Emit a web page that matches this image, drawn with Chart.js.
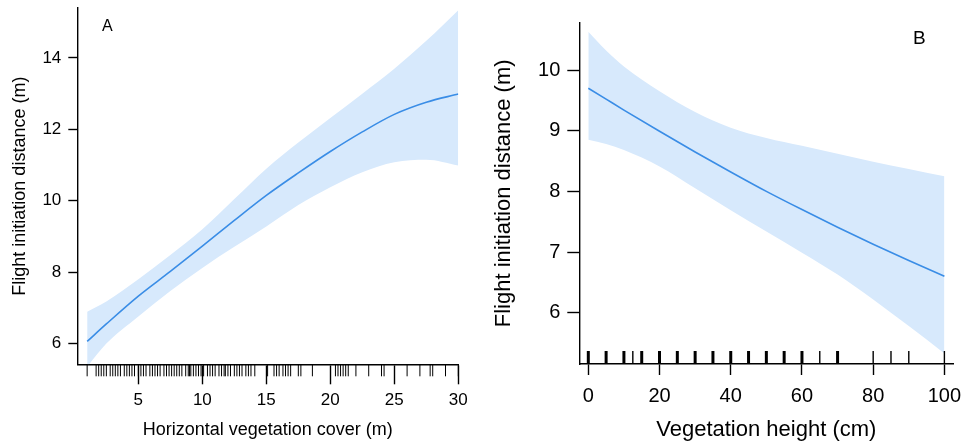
<!DOCTYPE html>
<html>
<head>
<meta charset="utf-8">
<script src="https://cdn.jsdelivr.net/npm/chart.js@4.4.0/dist/chart.umd.min.js"></script>
<style>
  body { margin: 0; background: #fff; }
  #wrap { position: relative; width: 967px; height: 447px; }
  canvas { position: absolute; top: 0; }
  #chartA { left: 0; }
  #chartB { left: 480px; }
  .tag { position: absolute; font-family: "Liberation Sans", Arial, sans-serif; color: #000; line-height: 1; }
</style>
</head>
<body>
<div id="wrap">
  <canvas id="chartA" width="480" height="447"></canvas>
  <canvas id="chartB" width="487" height="447"></canvas>
  <div class="tag" style="left:102px;top:18px;font-size:16px;">A</div>
  <div class="tag" style="left:913px;top:28px;font-size:19px;">B</div>
</div>
<script>
// Panel A: horizontal vegetation cover
const coverX     = [1, 2.5, 5, 7.5, 10, 12.5, 15, 17.5, 20, 22.5, 25, 27.5, 30];
const coverFit   = [6.06, 6.55, 7.33, 8.02, 8.73, 9.45, 10.15, 10.78, 11.38, 11.93, 12.42, 12.76, 12.99];
const coverUpper = [6.89, 7.18, 7.8, 8.48, 9.2, 10.05, 10.9, 11.63, 12.32, 13.0, 13.7, 14.48, 15.34];
const coverLower = [5.35, 6.0, 6.76, 7.47, 8.12, 8.71, 9.28, 9.88, 10.38, 10.8, 11.08, 11.15, 10.99];
const coverRug = [1.0, 1.7, 1.9, 2.1, 2.3, 2.5, 2.8, 3.0, 3.2, 3.4, 3.6, 3.9, 4.1, 4.3, 4.5, 4.7,
  5.0, 5.2, 5.4, 5.6, 5.9, 6.1, 6.3, 6.5, 6.7, 7.0, 7.2, 7.4, 7.6, 7.8, 8.0, 8.2, 8.4, 8.7,
  8.9, 9.0, 9.1, 9.3, 9.5, 9.7, 9.9, 10.1, 10.4, 10.6, 10.8, 11.0, 11.3, 11.5, 11.7, 11.8,
  12.0, 12.2, 12.5, 12.7, 12.9, 13.1, 13.4, 13.6, 13.8, 14.1,
  15.1, 15.6, 15.8, 16.0, 16.3, 16.5, 16.7, 16.9, 17.5, 17.7, 18.6, 20.4, 20.6, 20.8, 21.0,
  21.2, 21.4, 22.0, 23.0, 24.0, 24.2, 26.0, 27.0, 27.8, 28.0, 29.0, 30.0];
const coverTicksX = [5, 10, 15, 20, 25, 30];
const coverTicksY = [6, 8, 10, 12, 14];

// Panel B: vegetation height
const heightX     = [0, 5, 10, 20, 30, 40, 50, 60, 70, 80, 90, 100];
const heightFit   = [9.70, 9.52, 9.34, 8.99, 8.65, 8.32, 8.0, 7.70, 7.41, 7.13, 6.86, 6.60];
const heightUpper = [10.63, 10.32, 10.06, 9.65, 9.31, 9.05, 8.88, 8.75, 8.62, 8.49, 8.37, 8.25];
const heightLower = [8.85, 8.78, 8.68, 8.41, 8.05, 7.69, 7.34, 6.99, 6.63, 6.22, 5.78, 5.33];
const heightRug      = [0, 5, 10, 12.5, 15, 20, 25, 30, 35, 40, 45, 50, 55, 60, 65, 70, 80, 85, 90, 100];
const heightRugCount = [3, 3, 3, 1, 3, 3, 3, 3, 3, 3, 3, 3, 3, 3, 1, 2, 1, 1, 1, 1];
const heightTicksX = [0, 20, 40, 60, 80, 100];
const heightTicksY = [6, 7, 8, 9, 10];

const FONT = '"Liberation Sans", Arial, sans-serif';
const LINE = '#3a8de6';
const BAND = '#d7e9fc';

function pts(xs, ys) {
    return xs.map((x, i) => ({ x: x, y: ys[i] }));
}

const rugPlugin = {
    id: 'rug',
    afterDatasetsDraw(chart, args, opts) {
        const xs = chart.scales.x;
        const base = chart.chartArea.bottom;
        const ctx = chart.ctx;
        ctx.save();
        ctx.strokeStyle = '#000';
        opts.values.forEach((v, i) => {
            const px = xs.getPixelForValue(v);
            ctx.lineWidth = opts.counts ? (opts.counts[i] > 1 ? 3 : 1.4) : 1;
            ctx.beginPath();
            ctx.moveTo(px, base);
            ctx.lineTo(px, base + opts.dir * opts.length);
            ctx.stroke();
        });
        ctx.restore();
    }
};

function makeChart(id, cfg) {
    const fixAxis = (size) => (scale) => {
        if (scale.isHorizontal()) scale.height = size; else scale.width = size;
        scale.paddingLeft = 0; scale.paddingRight = 0;
        scale.paddingTop = 0; scale.paddingBottom = 0;
    };
    const setTicks = (list) => (scale) => {
        scale.ticks = list.map(v => ({ value: v }));
    };

    return new Chart(document.getElementById(id).getContext('2d'), {
        type: 'line',
        data: {
            datasets: [
                {
                    data: pts(cfg.x, cfg.lower),
                    order: 2,
                    borderWidth: 0,
                    pointRadius: 0,
                    fill: false,
                    cubicInterpolationMode: 'monotone'
                },
                {
                    data: pts(cfg.x, cfg.upper),
                    order: 1,
                    borderWidth: 0,
                    pointRadius: 0,
                    backgroundColor: BAND,
                    fill: '-1',
                    cubicInterpolationMode: 'monotone'
                },
                {
                    data: pts(cfg.x, cfg.fit),
                    order: 0,
                    borderColor: LINE,
                    borderWidth: 1.6,
                    pointRadius: 0,
                    fill: false,
                    cubicInterpolationMode: 'monotone'
                }
            ]
        },
        plugins: [rugPlugin],
        options: {
            responsive: false,
            animation: false,
            events: [],
            layout: { padding: cfg.padding },
            plugins: {
                legend: { display: false },
                tooltip: { enabled: false },
                rug: cfg.rug
            },
            scales: {
                x: {
                    type: 'linear',
                    min: cfg.xMin,
                    max: cfg.xMax,
                    afterBuildTicks: setTicks(cfg.ticksX),
                    afterFit: fixAxis(cfg.xHeight),
                    border: { display: true, color: '#000', width: 1.4 },
                    grid: { drawOnChartArea: false, drawTicks: true, tickLength: cfg.xTickLen, tickColor: '#000', tickWidth: 1.4 },
                    ticks: { color: '#000', padding: cfg.xTickPad, maxRotation: 0, autoSkip: false, font: { family: FONT, size: cfg.tickSize } },
                    title: { display: true, text: cfg.xTitle, color: '#000', padding: { top: 0, bottom: cfg.xTitlePad }, font: { family: FONT, size: cfg.titleSize } }
                },
                y: {
                    min: cfg.yMin,
                    max: cfg.yMax,
                    afterBuildTicks: setTicks(cfg.ticksY),
                    afterFit: fixAxis(cfg.yWidth),
                    border: { display: true, color: '#000', width: 1.4 },
                    grid: { drawOnChartArea: false, drawTicks: true, tickLength: cfg.yTickLen, tickColor: '#000', tickWidth: 1.4 },
                    ticks: { color: '#000', padding: 7, autoSkip: false, font: { family: FONT, size: cfg.tickSize } },
                    title: { display: true, text: 'Flight initiation distance (m)', color: '#000', padding: { top: cfg.yTitlePad, bottom: 0 }, font: { family: FONT, size: cfg.titleSize } }
                }
            }
        }
    });
}

makeChart('chartA', {
    x: coverX, fit: coverFit, upper: coverUpper, lower: coverLower,
    ticksX: coverTicksX, ticksY: coverTicksY,
    xMin: 0.23, xMax: 30, yMin: 5.42, yMax: 15.4,
    padding: { top: 8, right: 21.7, left: 0, bottom: 0 },
    xHeight: 82.7, yWidth: 77.3,
    xTickLen: 20, xTickPad: 6, yTickLen: 9,
    tickSize: 17, titleSize: 18, xTitlePad: 6, yTitlePad: 9,
    xTitle: 'Horizontal vegetation cover (m)',
    rug: { values: coverRug, dir: 1, length: 12 }
});

makeChart('chartB', {
    x: heightX, fit: heightFit, upper: heightUpper, lower: heightLower,
    ticksX: heightTicksX, ticksY: heightTicksY,
    xMin: -2.53, xMax: 102.5, yMin: 5.155, yMax: 10.78,
    padding: { top: 22.7, right: 13.7, left: 0, bottom: 0 },
    xHeight: 83, yWidth: 99.3,
    xTickLen: 11, xTickPad: 9, yTickLen: 12,
    tickSize: 20, titleSize: 22, xTitlePad: 4, yTitlePad: 11,
    xTitle: 'Vegetation height (cm)',
    rug: { values: heightRug, counts: heightRugCount, dir: -1, length: 13 }
});
</script>
</body>
</html>
